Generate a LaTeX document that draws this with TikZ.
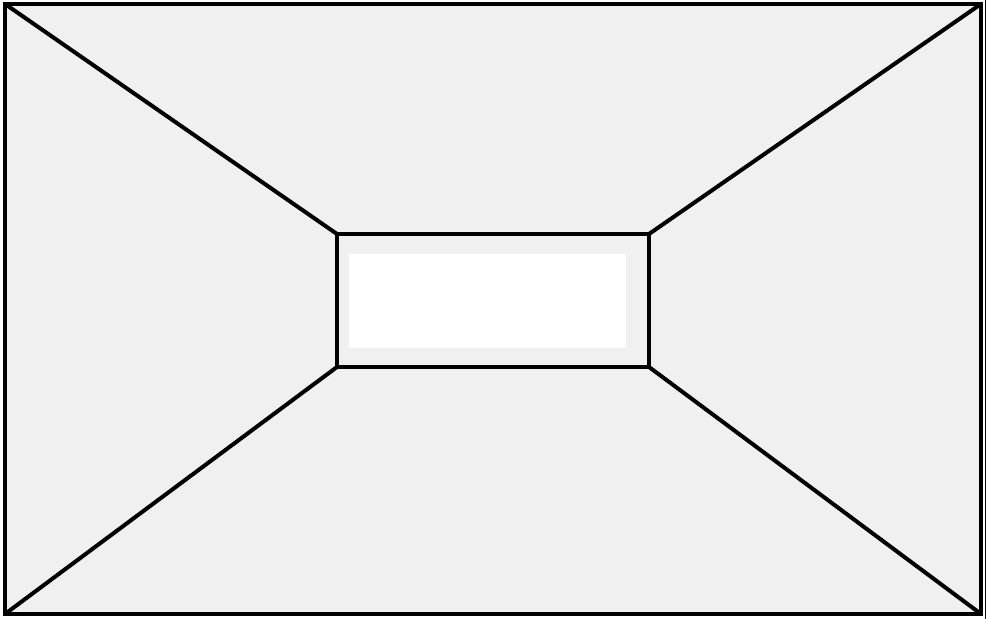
\documentclass[tikz,border=0pt]{standalone}
\begin{document}
\begin{tikzpicture}[x=0.0264cm,y=-0.0264cm,line width=3pt]
  \useasboundingbox (0,0) rectangle (987,619);
  \definecolor{wallgray}{HTML}{F0F0F0}
  % outer frame and inner frame
  \coordinate (otl) at (5,4);   \coordinate (otr) at (981,4);
  \coordinate (obl) at (5,614); \coordinate (obr) at (981,614);
  \coordinate (itl) at (337,234); \coordinate (itr) at (649,234);
  \coordinate (ibl) at (337,367); \coordinate (ibr) at (649,367);
  \fill[wallgray] (otl) rectangle (obr);
  \fill[white] (349,254) rectangle (626,348);
  \draw[blue!60!black,line width=0.5pt] (985.5,0) -- (985.5,619);
  \draw (otl) rectangle (obr);
  \draw (itl) rectangle (ibr);
  \draw (otl) -- (itl);
  \draw (otr) -- (itr);
  \draw (obl) -- (ibl);
  \draw (obr) -- (ibr);
\end{tikzpicture}
\end{document}
